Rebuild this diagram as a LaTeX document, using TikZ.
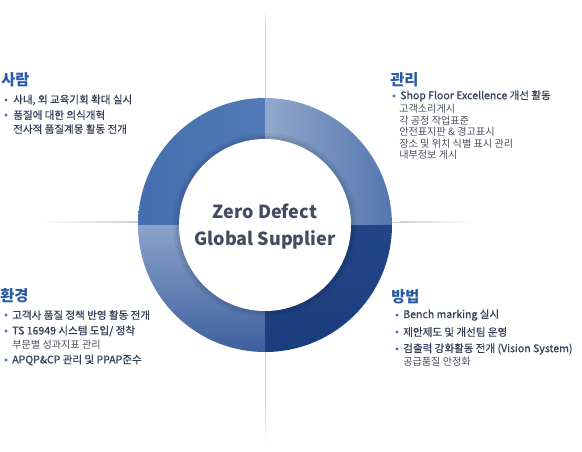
\documentclass[tikz,border=0pt]{standalone}
\usepackage{fontspec}
\setmainfont{Noto Sans CJK KR}
\newfontfamily\itemfont[FakeBold=0.6]{Noto Sans CJK KR}
\usepackage{xcolor}
\usepackage{tikz}
\definecolor{headblue}{HTML}{2A5AA6}
\definecolor{dotblue}{HTML}{3C6AB4}
\definecolor{bodytext}{HTML}{333E58}
\definecolor{subtext}{HTML}{4A4F5C}
\definecolor{centertext}{HTML}{414C63}
\definecolor{linegray}{HTML}{CFCFCF}
\tikzset{
  head/.style={anchor=west,inner sep=0pt,text=headblue,font=\fontsize{11.5}{12}\selectfont\bfseries},
  item/.style={anchor=west,inner sep=0pt,text=bodytext,font=\itemfont\fontsize{7.9}{9}\selectfont},
  subitem/.style={anchor=west,inner sep=0pt,text=subtext,font=\fontsize{7.6}{8}\selectfont},
  hub/.style={inner sep=0pt,text=centertext,font=\fontsize{13.5}{14}\selectfont\bfseries}
}
\begin{document}
\begin{tikzpicture}[x=0.75pt,y=0.75pt,yscale=-1,xscale=1]
\useasboundingbox (0,0) rectangle (582,451);

%Straight Lines (horizontal guide)
\shade [left color=white,right color=linegray] (40,221.5) rectangle (140,222.5) ;
\fill [linegray] (140,221.5) rectangle (400,222.5) ;
\shade [left color=linegray,right color=white] (400,221.5) rectangle (472,222.5) ;
%Straight Lines (vertical guide)
\shade [top color=white,bottom color=linegray] (265,6) rectangle (266,30) ;
\fill [linegray] (265,30) rectangle (266,400) ;
\shade [top color=linegray,bottom color=white] (265,400) rectangle (266,446) ;

%Shape: Sector top left
\shade [left color={rgb, 255:red, 68; green, 110; blue, 174 },right color={rgb, 255:red, 82; green, 122; blue, 184 }] (265,225) -- +(180:127) arc [start angle=180,end angle=270,radius=127] -- cycle ;
%Shape: Sector top right
\shade [left color={rgb, 255:red, 146; green, 168; blue, 204 },right color={rgb, 255:red, 84; green, 118; blue, 175 }] (265,225) -- +(270:127) arc [start angle=270,end angle=360,radius=127] -- cycle ;
%Shape: Sector bottom left
\shade [top color={rgb, 255:red, 140; green, 163; blue, 202 },bottom color={rgb, 255:red, 60; green, 96; blue, 158 }] (265,225) -- +(90:127) arc [start angle=90,end angle=180,radius=127] -- cycle ;
%Shape: Sector bottom right
\shade [top color={rgb, 255:red, 33; green, 70; blue, 136 },bottom color={rgb, 255:red, 27; green, 61; blue, 125 }] (265,225) -- +(0:127) arc [start angle=0,end angle=90,radius=127] -- cycle ;

%Shape: Circle (inner shadow)
\fill [black,opacity=0.06] (265,225) circle [radius=92] ;
\fill [black,opacity=0.07] (265,225) circle [radius=89] ;
%Shape: Circle (hub)
\fill [white] (265,225) circle [radius=86] ;

% Text Node
\draw (265,211) node (zero) [hub] {Zero Defect};
% Text Node
\draw (265,240) node (global) [hub] {Global Supplier};

% Text Node
\draw (1,80) node (saram) [head] {사람};
\fill [dotblue] (6,100) circle [radius=1.7] ;
\draw (13,100) node (saramA) [item] {사내, 외 교육기회 확대 실시};
\fill [dotblue] (6,115) circle [radius=1.7] ;
\draw (13,115) node (saramB) [item] {품질에 대한 의식개혁};
\draw (13,129) node (saramC) [item] {전사적 품질계몽 활동 전개};

% Text Node
\draw (390,80) node (gwanri) [head] {관리};
\fill [dotblue] (394,96) circle [radius=1.7] ;
\draw (400,96) node (gwanriA) [item] {Shop Floor Excellence 개선 활동};
\draw (399,109) node (gwanriB) [subitem] {고객소리게시};
\draw (399,120.5) node (gwanriC) [subitem] {각 공정 작업표준};
\draw (399,132) node (gwanriD) [subitem] {안전표지판 \& 경고표시};
\draw (399,143.5) node (gwanriE) [subitem] {장소 및 위치 식별 표시 관리};
\draw (399,155) node (gwanriF) [subitem] {내부정보 게시};

% Text Node
\draw (0,296) node (hwangyeong) [head] {환경};
\fill [dotblue] (6,315) circle [radius=1.7] ;
\draw (12,315) node (hwangyeongA) [item] {고객사 품질 정책 반영 활동 전개};
\fill [dotblue] (6,331) circle [radius=1.7] ;
\draw (12,331) node (hwangyeongB) [item] {TS 16949 시스템 도입/ 정착};
\draw (12,345) node (hwangyeongC) [subitem] {부문별 성과지표 관리};
\fill [dotblue] (6,360) circle [radius=1.7] ;
\draw (12,360) node (hwangyeongD) [item] {APQP\&CP 관리 및 PPAP준수};

% Text Node
\draw (391,297) node (bangbeop) [head] {방법};
\fill [dotblue] (397,315) circle [radius=1.7] ;
\draw (403,315) node (bangbeopA) [item] {Bench marking 실시};
\fill [dotblue] (397,332) circle [radius=1.7] ;
\draw (403,332) node (bangbeopB) [item] {제안제도 및 개선팀 운영};
\fill [dotblue] (397,349) circle [radius=1.7] ;
\draw (403,349) node (bangbeopC) [item] {검출력 강화활동 전개 (Vision System)};
\draw (403,362) node (bangbeopD) [subitem] {공급품질 안정화};

\end{tikzpicture}
\end{document}
